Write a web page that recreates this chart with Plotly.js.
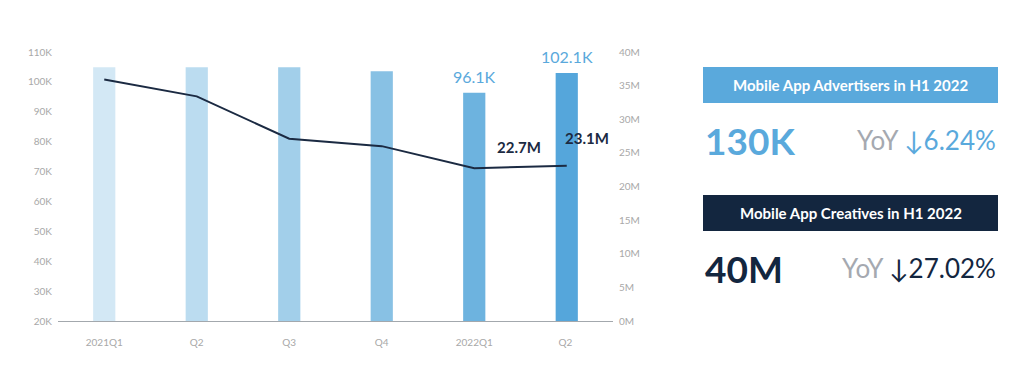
<!DOCTYPE html>
<html>
<head>
<meta charset="utf-8">
<script src="https://cdn.plot.ly/plotly-3.0.1.min.js"></script>
<style>
html,body{margin:0;padding:0;background:#fff;}
#chart{width:1024px;height:385px;}
</style>
</head>
<body>
<div id="chart"></div>
<script>
// ---- data ----
const categories = ['2021Q1', 'Q2', 'Q3', 'Q4', '2022Q1', 'Q2 '];
const advertisersK = [104.9, 104.9, 104.9, 103.6, 96.4, 103.0];
const advertiserLabels = ['', '', '', '', '96.1K', '102.1K'];
const creativesM = [35.9, 33.4, 27.1, 26.0, 22.7, 23.1];
const creativeLabels = ['', '', '', '', '22.7M', '23.1M'];
const barColors = ['#d3e8f5', '#bbdcf0', '#a2cfea', '#88c1e4', '#6db3df', '#55a6db'];
const leftTickVals = [20, 30, 40, 50, 60, 70, 80, 90, 100, 110];
const leftTickText = ['20K', '30K', '40K', '50K', '60K', '70K', '80K', '90K', '100K', '110K'];
const rightTickVals = [0, 5, 10, 15, 20, 25, 30, 35, 40];
const rightTickText = ['0M', '5M', '10M', '15M', '20M', '25M', '30M', '35M', '40M'];

const summary = [
  {title: 'Mobile App Advertisers in H1 2022', value: '130K', yoy: '↓6.24%', boxColor: '#5aa9dc', valueColor: '#5aa9dc'},
  {title: 'Mobile App Creatives in H1 2022', value: '40M', yoy: '↓27.02%', boxColor: '#13263f', valueColor: '#13263f'}
];

// ---- layout helpers ----
const FONT = 'Lato, "Open Sans", sans-serif';
const M = {l: 58, r: 411, t: 52, b: 64};
const PW = 1024 - M.l - M.r, PH = 385 - M.t - M.b;
const px = x => (x - M.l) / PW;
const py = y => (385 - M.b - y) / PH;

const traces = [
  {
    type: 'bar', x: categories, y: advertisersK, base: 0,
    marker: {color: barColors, line: {width: 0}},
    width: 0.24, hoverinfo: 'skip', yaxis: 'y', xaxis: 'x'
  },
  {
    type: 'scatter', mode: 'lines', x: categories, y: creativesM,
    line: {color: '#1b2a42', width: 2}, yaxis: 'y2', xaxis: 'x', hoverinfo: 'skip'
  }
];

const annotations = [];
advertiserLabels.forEach((t, i) => {
  if (!t) return;
  annotations.push({x: categories[i], y: advertisersK[i], xref: 'x', yref: 'y', text: t,
    showarrow: false, yanchor: 'bottom', yshift: 5,
    font: {family: FONT, size: 16, color: '#5aa9dc'}});
});
const lineLabelShift = [[0,0],[0,0],[0,0],[0,0],[45,21],[20,28]];
creativeLabels.forEach((t, i) => {
  if (!t) return;
  annotations.push({x: categories[i], y: creativesM[i], xref: 'x', yref: 'y2', text: '<b>' + t + '</b>',
    showarrow: false, xanchor: 'center', yanchor: 'middle',
    xshift: lineLabelShift[i][0], yshift: lineLabelShift[i][1],
    font: {family: FONT, size: 15, color: '#1b2a42'}});
});

const shapes = [];
const boxY = [[67, 103], [195, 231]];
const valY = [140, 268];
summary.forEach((s, k) => {
  shapes.push({type: 'rect', xref: 'paper', yref: 'paper',
    x0: px(703), x1: px(998), y0: py(boxY[k][1]), y1: py(boxY[k][0]),
    fillcolor: s.boxColor, line: {width: 0}, layer: 'below'});
  annotations.push({xref: 'paper', yref: 'paper', x: px(850.5), y: py((boxY[k][0] + boxY[k][1]) / 2),
    text: '<b>' + s.title + '</b>', showarrow: false, xanchor: 'center', yanchor: 'middle',
    font: {family: FONT, size: 15, color: '#ffffff'}});
  annotations.push({xref: 'paper', yref: 'paper', x: px(703), y: py(valY[k]),
    text: '<b>' + s.value + '</b>', showarrow: false, xanchor: 'left', yanchor: 'middle',
    font: {family: FONT, size: 37, color: s.valueColor}});
  annotations.push({xref: 'paper', yref: 'paper', x: px(998), y: py(valY[k]),
    text: '<span style="color:#a5a9b0">YoY</span> ' + s.yoy, showarrow: false, xanchor: 'right', yanchor: 'middle',
    font: {family: FONT, size: 26, color: s.valueColor}});
});

const layout = {
  width: 1024, height: 385,
  margin: M,
  paper_bgcolor: '#ffffff', plot_bgcolor: '#ffffff',
  showlegend: false,
  font: {family: FONT, size: 10, color: '#a8a8a8'},
  xaxis: {
    type: 'category', range: [-0.5, 5.5], showgrid: false, zeroline: false,
    showline: true, linecolor: '#a3a8ad', linewidth: 1, ticks: '',
    ticklabelstandoff: 12, tickfont: {family: FONT, size: 10, color: '#a8a8a8'}
  },
  yaxis: {
    range: [20, 110], tickvals: leftTickVals, ticktext: leftTickText,
    showgrid: false, zeroline: false, showline: false, ticks: '',
    ticklabelstandoff: 5, tickfont: {family: FONT, size: 10, color: '#a8a8a8'}
  },
  yaxis2: {
    range: [0, 40], overlaying: 'y', side: 'right', tickvals: rightTickVals, ticktext: rightTickText,
    showgrid: false, zeroline: false, showline: false, ticks: '',
    ticklabelstandoff: 5, tickfont: {family: FONT, size: 10, color: '#a8a8a8'}
  },
  shapes: shapes,
  annotations: annotations
};

Plotly.newPlot('chart', traces, layout, {staticPlot: true, displayModeBar: false});
</script>
</body>
</html>
